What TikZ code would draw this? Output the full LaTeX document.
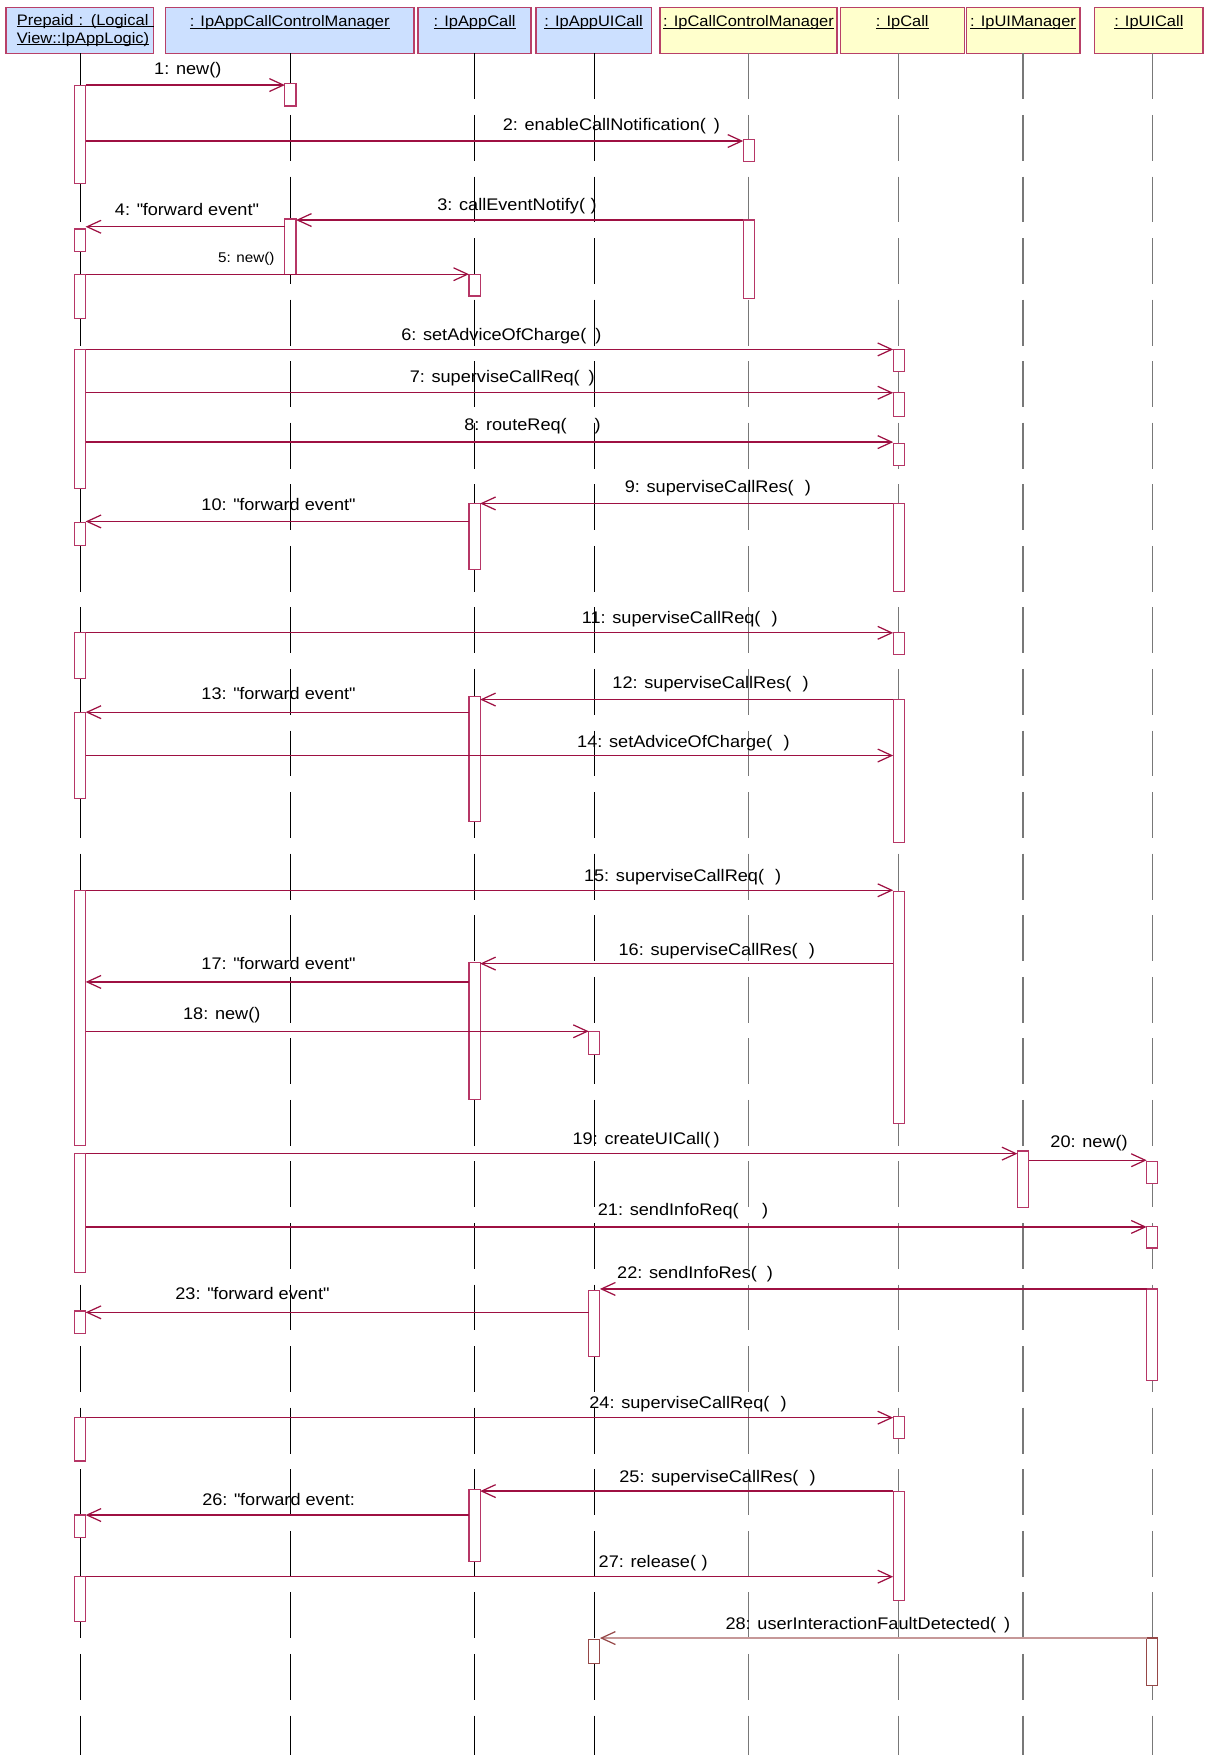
\documentclass[tikz,border=0pt]{standalone}
\usepackage{fontspec}
\setmainfont[FakeStretch=1.08]{Liberation Sans}
\usetikzlibrary{arrows.meta}
\definecolor{hdrblue}{RGB}{204,224,255}
\definecolor{hdryellow}{RGB}{255,255,204}
\definecolor{hdrline}{RGB}{184,64,104}
\definecolor{msgred}{RGB}{158,16,66}
\definecolor{actred}{RGB}{182,54,102}
\definecolor{faultline}{RGB}{198,152,152}
\definecolor{faultred}{RGB}{150,72,72}
\definecolor{lifegrey}{RGB}{120,120,120}
\newsavebox\ulbox
\newcommand{\hdrul}[1]{\leavevmode\sbox\ulbox{#1}\rlap{\rule[-1.6pt]{\wd\ulbox}{0.8pt}}\usebox\ulbox}

\begin{document}
\begin{tikzpicture}[x=1pt,y=-1pt,
  hdr/.style={draw=hdrline, line width=1.3pt, anchor=north west, minimum height=41.1pt,
    inner sep=0pt, outer sep=0pt, font=\fontsize{13.6}{16.4}\selectfont},
  hdrtop/.style={hdr, text height=17.2pt, text depth=23.9pt},
  life/.style={line width=0.9pt, dash pattern=on 41pt off 14pt},
  lifegrey/.style={life, draw=lifegrey, line width=1.1pt},
  act/.style={draw=actred, fill=white, line width=1pt, minimum width=10pt,
    inner sep=0pt, outer sep=0pt, anchor=north},
  faultact/.style={act, draw=faultred},
  msg/.style={draw=msgred, line width=1.1pt, -{Straight Barb[length=12.5pt,width=11.5pt]}},
  faultmsg/.style={draw=faultline, line width=1.1pt,
    -{Straight Barb[length=12.5pt,width=11.5pt,color=faultred]}},
  lbl/.style={anchor=base west, inner sep=0pt, font=\fontsize{15}{18}\selectfont},
  lblsmall/.style={lbl, font=\fontsize{12.6}{15}\selectfont}]
\useasboundingbox (0,0) rectangle (1076,1568);

%%%%%%%%% objects
\node[hdr, fill=hdrblue, minimum width=131.7pt, text width=112pt, align=left] (h1) at (5.3,6.6)
  {\hdrul{Prepaid : (Logical\ }\\\hdrul{View::IpAppLogic)}};
\node[hdrtop, fill=hdrblue, minimum width=222.3pt] (h2) at (147.7,6.6) {\hdrul{: IpAppCallControlManager}};
\node[hdrtop, fill=hdrblue, minimum width=101.1pt] (h3) at (373.5,6.6) {\hdrul{: IpAppCall}};
\node[hdrtop, fill=hdrblue, minimum width=103.2pt] (h4) at (478.8,6.6) {\hdrul{: IpAppUICall}};
\node[hdrtop, fill=hdryellow, minimum width=158.5pt] (h5) at (589.5,6.6) {\hdrul{: IpCallControlManager}};
\node[hdrtop, fill=hdryellow, minimum width=110.8pt] (h6) at (750.7,6.6) {\hdrul{: IpCall}};
\node[hdrtop, fill=hdryellow, minimum width=101.5pt] (h7) at (863.3,6.6) {\hdrul{: IpUIManager}};
\node[hdrtop, fill=hdryellow, minimum width=97.1pt] (h8) at (977.9,6.6) {\hdrul{: IpUICall}};

%%%%%%%%% lifelines
\coordinate (e1) at (71.5,1568);
\coordinate (e2) at (259.5,1568);
\coordinate (e3) at (424,1568);
\coordinate (e4) at (531,1568);
\coordinate (e5) at (669,1568);
\coordinate (e6) at (803,1568);
\coordinate (e7) at (914,1568);
\coordinate (e8) at (1029.5,1568);

\draw[life] (h1.south -| e1) -- (e1);
\draw[life] (h2.south -| e2) -- (e2);
\draw[life] (h3.south -| e3) -- (e3);
\draw[life] (h4.south -| e4) -- (e4);
\draw[lifegrey] (h5.south -| e5) -- (e5);
\draw[lifegrey] (h6.south -| e6) -- (e6);
\draw[lifegrey] (h7.south -| e7) -- (e7);
\draw[lifegrey] (h8.south -| e8) -- (e8);

%%%%%%%%% activations
\node[act, minimum height=87.6pt] (a1a) at (71.5,76) {};
\node[act, minimum height=20pt] (a1b) at (71.5,204.6) {};
\node[act, minimum height=39.8pt] (a1c) at (71.5,245) {};
\node[act, minimum height=124.2pt] (a1d) at (71.5,312.2) {};
\node[act, minimum height=20.3pt] (a1e) at (71.5,467) {};
\node[act, minimum height=40.8pt] (a1f) at (71.5,565.4) {};
\node[act, minimum height=77.1pt] (a1g) at (71.5,636.3) {};
\node[act, minimum height=228.4pt] (a1h) at (71.5,795.4) {};
\node[act, minimum height=106.3pt] (a1i) at (71.5,1030.7) {};
\node[act, minimum height=20.2pt] (a1j) at (71.5,1171.3) {};
\node[act, minimum height=38.7pt] (a1k) at (71.5,1266.6) {};
\node[act, minimum height=19.9pt] (a1l) at (71.5,1353.6) {};
\node[act, minimum height=39.9pt] (a1m) at (71.5,1408.7) {};

\node[act, minimum height=20.2pt] (a2a) at (259.5,74.5) {};
\node[act, minimum height=49.3pt] (a2b) at (259.5,195.7) {};

\node[act, minimum height=19.5pt] (a3a) at (424,245) {};
\node[act, minimum height=59pt] (a3b) at (424,449.8) {};
\node[act, minimum height=111.1pt] (a3c) at (424,622.6) {};
\node[act, minimum height=122.7pt] (a3d) at (424,859.7) {};
\node[act, minimum height=64.3pt] (a3e) at (424,1331) {};

\node[act, minimum height=20.8pt] (a4a) at (531,921.4) {};
\node[act, minimum height=58.7pt] (a4b) at (531,1153.1) {};
\node[faultact, minimum height=21.4pt] (a4c) at (531,1465) {};

\node[act, minimum height=20pt] (a5a) at (669,124.5) {};
\node[act, minimum height=69.8pt] (a5b) at (669,196.6) {};

\node[act, minimum height=20pt] (a6a) at (803,312.2) {};
\node[act, minimum height=21.4pt] (a6b) at (803,351) {};
\node[act, minimum height=20pt] (a6c) at (803,396.2) {};
\node[act, minimum height=79pt] (a6d) at (803,449.8) {};
\node[act, minimum height=19.4pt] (a6e) at (803,565.4) {};
\node[act, minimum height=127.8pt] (a6f) at (803,625) {};
\node[act, minimum height=207.4pt] (a6g) at (803,796.5) {};
\node[act, minimum height=20pt] (a6h) at (803,1265.4) {};
\node[act, minimum height=97.6pt] (a6i) at (803,1332.2) {};

\node[act, minimum height=50.7pt] (a7a) at (914,1028.3) {};

\node[act, minimum height=20pt] (a8a) at (1029.5,1037.5) {};
\node[act, minimum height=19.4pt] (a8b) at (1029.5,1095.6) {};
\node[act, minimum height=81.6pt] (a8c) at (1029.5,1151.6) {};
\node[faultact, minimum height=42.3pt] (a8d) at (1029.5,1463.5) {};

%%%%%%%%% messages
\coordinate (m1) at (0,76);
\coordinate (m2) at (0,126);
\coordinate (m3) at (0,196.6);
\coordinate (m4) at (0,202.6);
\coordinate (m5) at (0,245);
\coordinate (m6) at (0,312.2);
\coordinate (m7) at (0,350.9);
\coordinate (m8) at (0,395);
\coordinate (m9) at (0,449.8);
\coordinate (m10) at (0,465.9);
\coordinate (m11) at (0,565.4);
\coordinate (m12) at (0,625);
\coordinate (m13) at (0,636.3);
\coordinate (m14) at (0,675);
\coordinate (m15) at (0,795.4);
\coordinate (m16) at (0,860.9);
\coordinate (m17) at (0,877.3);
\coordinate (m18) at (0,921.4);
\coordinate (m19) at (0,1030.7);
\coordinate (m20) at (0,1036.6);
\coordinate (m21) at (0,1096.2);
\coordinate (m22) at (0,1151.6);
\coordinate (m23) at (0,1172.5);
\coordinate (m24) at (0,1266.6);
\coordinate (m25) at (0,1332.2);
\coordinate (m26) at (0,1353.6);
\coordinate (m27) at (0,1408.7);
\coordinate (m28) at (0,1463.5);

\draw[msg] (a1a.east |- m1) -- (a2a.west |- m1);
\draw[msg] (a1a.east |- m2) -- (a5a.west |- m2);
\draw[msg] (a5b.west |- m3) -- (a2b.east |- m3);
\draw[msg] (a2b.west |- m4) -- (a1b.east |- m4);
\draw[msg] (a1c.east |- m5) -- (a3a.west |- m5);
\draw[msg] (a1d.east |- m6) -- (a6a.west |- m6);
\draw[msg] (a1d.east |- m7) -- (a6b.west |- m7);
\draw[msg] (a1d.east |- m8) -- (a6c.west |- m8);
\draw[msg] (a6d.west |- m9) -- (a3b.east |- m9);
\draw[msg] (a3b.west |- m10) -- (a1e.east |- m10);
\draw[msg] (a1f.east |- m11) -- (a6e.west |- m11);
\draw[msg] (a6f.west |- m12) -- (a3c.east |- m12);
\draw[msg] (a3c.west |- m13) -- (a1g.east |- m13);
\draw[msg] (a1g.east |- m14) -- (a6f.west |- m14);
\draw[msg] (a1h.east |- m15) -- (a6g.west |- m15);
\draw[msg] (a6g.west |- m16) -- (a3d.east |- m16);
\draw[msg] (a3d.west |- m17) -- (a1h.east |- m17);
\draw[msg] (a1h.east |- m18) -- (a4a.west |- m18);
\draw[msg] (a1i.east |- m19) -- (a7a.west |- m19);
\draw[msg] (a7a.east |- m20) -- (a8a.west |- m20);
\draw[msg] (a1i.east |- m21) -- (a8b.west |- m21);
\draw[msg] (a8c.west |- m22) -- (a4b.east |- m22);
\draw[msg] (a4b.west |- m23) -- (a1j.east |- m23);
\draw[msg] (a1k.east |- m24) -- (a6h.west |- m24);
\draw[msg] (a6i.west |- m25) -- (a3e.east |- m25);
\draw[msg] (a3e.west |- m26) -- (a1l.east |- m26);
\draw[msg] (a1m.east |- m27) -- (a6i.west |- m27);
\draw[faultmsg] (a8d.west |- m28) -- (a4c.east |- m28);

%%%%%%%%% labels
\node[lbl] (t1) at (137.6,67) {1: new()};
\node[lbl] (t2) at (449,117) {2: enableCallNotification(\hspace{7pt})};
\node[lbl] (t3) at (390.5,187.7) {3: callEventNotify(\hspace{5pt})};
\node[lbl] (t4) at (102.5,192.1) {4: \textquotedbl forward event\textquotedbl};
\node[lblsmall] (t5) at (194.7,234.7) {5: new()};
\node[lbl] (t6) at (358.3,304.5) {6: setAdviceOfCharge(\hspace{8pt})};
\node[lbl] (t7) at (365.9,341.7) {7: superviseCallReq(\hspace{8pt})};
\node[lbl] (t8) at (414.6,384.3) {8: routeReq(\hspace{25pt})};
\node[lbl] (t9) at (558,440) {9: superviseCallRes(\hspace{10pt})};
\node[lbl] (t10) at (179.8,455.8) {10: \textquotedbl forward event\textquotedbl};
\node[lbl] (t11) at (519.6,557) {11: superviseCallReq(\hspace{10pt})};
\node[lbl] (t12) at (547,615.1) {12: superviseCallRes(\hspace{10pt})};
\node[lbl] (t13) at (179.8,625) {13: \textquotedbl forward event\textquotedbl};
\node[lbl] (t14) at (515.5,667.9) {14: setAdviceOfCharge(\hspace{10pt})};
\node[lbl] (t15) at (521.6,787.9) {15: superviseCallReq(\hspace{10pt})};
\node[lbl] (t16) at (552.5,854) {16: superviseCallRes(\hspace{10pt})};
\node[lbl] (t17) at (179.8,866.2) {17: \textquotedbl forward event\textquotedbl};
\node[lbl] (t18) at (163.4,911) {18: new()};
\node[lbl] (t19) at (511.4,1022.6) {19: createUICall(\hspace{3pt})};
\node[lbl] (t20) at (938.3,1025.6) {20: new()};
\node[lbl] (t21) at (534,1085.8) {21: sendInfoReq(\hspace{21pt})};
\node[lbl] (t22) at (551.2,1142.4) {22: sendInfoRes(\hspace{9pt})};
\node[lbl] (t23) at (156.5,1160.9) {23: \textquotedbl forward event\textquotedbl};
\node[lbl] (t24) at (526.4,1258.6) {24: superviseCallReq(\hspace{10pt})};
\node[lbl] (t25) at (553.2,1324.1) {25: superviseCallRes(\hspace{10pt})};
\node[lbl] (t26) at (180.5,1345) {26: \textquotedbl forward event:};
\node[lbl] (t27) at (534.7,1400.7) {27: release(\hspace{5pt})};
\node[lbl] (t28) at (648,1456) {28: userInteractionFaultDetected(\hspace{7pt})};

\end{tikzpicture}
\end{document}
